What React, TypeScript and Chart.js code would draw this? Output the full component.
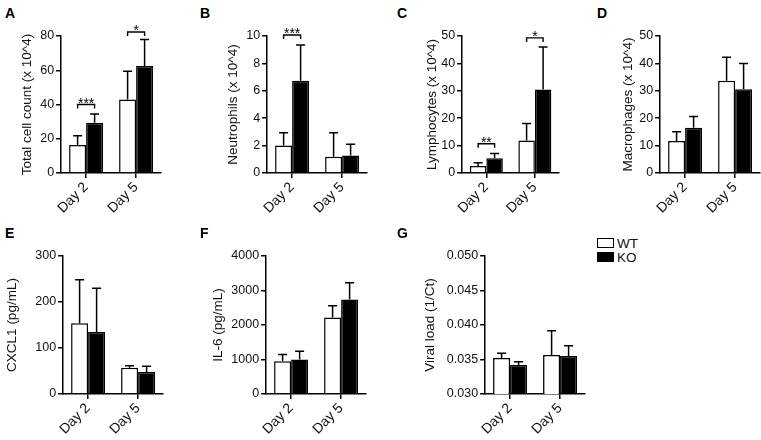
import { useEffect, useRef } from "react";
import { Chart, registerables } from "chart.js";

Chart.register(...registerables);

const INK = "#111";
const FONT = "Arial, 'Liberation Sans', Helvetica, sans-serif";

// categories and groups
const days = ["Day 2", "Day 5"];
const groups = ["WT", "KO"];

// bar heights (mean) and top of each error bar
const totalWT = [16.3, 42.9];
const totalKO = [29.3, 62.5];
const totalWTTop = [21.7, 59.4];
const totalKOTop = [34.4, 78];
const totalTicks = [0, 20, 40, 60, 80];

const neutroWT = [2.0, 1.19];
const neutroKO = [6.74, 1.27];
const neutroWTTop = [2.94, 2.94];
const neutroKOTop = [9.34, 2.09];
const neutroTicks = [0, 2, 4, 6, 8, 10];

const lymphoWT = [2.55, 11.9];
const lymphoKO = [5.34, 30.5];
const lymphoWTTop = [3.76, 18.1];
const lymphoKOTop = [7.16, 46];
const lymphoTicks = [0, 10, 20, 30, 40, 50];

const macroWT = [11.65, 33.7];
const macroKO = [16.5, 30.6];
const macroWTTop = [15.05, 42.2];
const macroKOTop = [20.6, 40];
const macroTicks = [0, 10, 20, 30, 40, 50];

const cxclWT = [153.6, 57.2];
const cxclKO = [134.8, 47.8];
const cxclWTTop = [248.5, 61.6];
const cxclKOTop = [229.7, 60.1];
const cxclTicks = [0, 100, 200, 300];

const il6WT = [949, 2218];
const il6KO = [998, 2741];
const il6WTTop = [1143, 2557];
const il6KOTop = [1240, 3225];
const il6Ticks = [0, 1000, 2000, 3000, 4000];

const viralWT = [0.03522, 0.03565];
const viralKO = [0.0342, 0.03551];
const viralWTTop = [0.03589, 0.03918];
const viralKOTop = [0.03469, 0.037];
const viralTicks = [0.03, 0.035, 0.04, 0.045, 0.05];

// significance brackets: day index, bracket height (axis units), stars
type Sig = { day: number; at: number; label: string };
const totalSig: Sig[] = [
  { day: 0, at: 40, label: "***" },
  { day: 1, at: 82.3, label: "*" },
];
const neutroSig: Sig[] = [{ day: 0, at: 10.07, label: "***" }];
const lymphoSig: Sig[] = [
  { day: 0, at: 10.7, label: "**" },
  { day: 1, at: 49.3, label: "*" },
];

interface PanelDef {
  letter: string;
  title: string;
  wt: number[];
  ko: number[];
  wtTop: number[];
  koTop: number[];
  ticks: number[];
  decimals: number;
  sig: Sig[];
}

const panels: PanelDef[] = [
  { letter: "A", title: "Total cell count (x 10^4)", wt: totalWT, ko: totalKO, wtTop: totalWTTop, koTop: totalKOTop, ticks: totalTicks, decimals: 0, sig: totalSig },
  { letter: "B", title: "Neutrophils (x 10^4)", wt: neutroWT, ko: neutroKO, wtTop: neutroWTTop, koTop: neutroKOTop, ticks: neutroTicks, decimals: 0, sig: neutroSig },
  { letter: "C", title: "Lymphocytes (x 10^4)", wt: lymphoWT, ko: lymphoKO, wtTop: lymphoWTTop, koTop: lymphoKOTop, ticks: lymphoTicks, decimals: 0, sig: lymphoSig },
  { letter: "D", title: "Macrophages (x 10^4)", wt: macroWT, ko: macroKO, wtTop: macroWTTop, koTop: macroKOTop, ticks: macroTicks, decimals: 0, sig: [] },
  { letter: "E", title: "CXCL1 (pg/mL)", wt: cxclWT, ko: cxclKO, wtTop: cxclWTTop, koTop: cxclKOTop, ticks: cxclTicks, decimals: 0, sig: [] },
  { letter: "F", title: "IL-6 (pg/mL)", wt: il6WT, ko: il6KO, wtTop: il6WTTop, koTop: il6KOTop, ticks: il6Ticks, decimals: 0, sig: [] },
  { letter: "G", title: "Viral load (1/Ct)", wt: viralWT, ko: viralKO, wtTop: viralWTTop, koTop: viralKOTop, ticks: viralTicks, decimals: 3, sig: [] },
];

// where each panel sits on the page (px)
const rows = [
  { canvasTop: 0, plotTop: 36, plotBottom: 173 },
  { canvasTop: 220, plotTop: 256, plotBottom: 394 },
];
const frames = [
  { row: 0, titleX: 27, axisLeft: 61, axisRight: 161, letterX: 5 },
  { row: 0, titleX: 233, axisLeft: 267, axisRight: 367, letterX: 200 },
  { row: 0, titleX: 432, axisLeft: 462, axisRight: 559, letterX: 397 },
  { row: 0, titleX: 628, axisLeft: 660, axisRight: 760, letterX: 597 },
  { row: 1, titleX: 12, axisLeft: 63, axisRight: 163, letterX: 5 },
  { row: 1, titleX: 218, axisLeft: 266, axisRight: 366, letterX: 200 },
  { row: 1, titleX: 430, axisLeft: 485, axisRight: 585, letterX: 397 },
];

const X_AXIS_H = 50;
const TITLE_SIZE = 13.5;

function Panel({ p, f }: { p: PanelDef; f: (typeof frames)[number] }) {
  const canvasRef = useRef<HTMLCanvasElement>(null);
  const row = rows[f.row];
  const left = f.titleX - (TITLE_SIZE * 1.2) / 2;
  const yAxisW = f.axisLeft - left;
  const width = f.axisRight - left + 1;
  const height = row.plotBottom - row.canvasTop + X_AXIS_H;

  useEffect(() => {
    if (!canvasRef.current) return;

    // error bars: a line up from the bar top with a short cap
    const errorBars = {
      id: "errorBars",
      afterDatasetsDraw(chart: Chart) {
        const { ctx } = chart;
        const yScale = chart.scales.y;
        [p.wtTop, p.koTop].forEach((tops, i) => {
          const meta = chart.getDatasetMeta(i);
          meta.data.forEach((bar: any, j: number) => {
            const yEnd = yScale.getPixelForValue(tops[j]);
            ctx.save();
            ctx.strokeStyle = "#000";
            ctx.lineWidth = 1.5;
            ctx.beginPath();
            ctx.moveTo(bar.x, bar.y);
            ctx.lineTo(bar.x, yEnd);
            ctx.moveTo(bar.x - 4.5, yEnd);
            ctx.lineTo(bar.x + 4.5, yEnd);
            ctx.stroke();
            ctx.restore();
          });
        });
      },
    };

    // significance brackets with stars
    const brackets = {
      id: "brackets",
      afterDraw(chart: Chart) {
        const { ctx } = chart;
        const yScale = chart.scales.y;
        p.sig.forEach((s) => {
          const a = chart.getDatasetMeta(0).data[s.day] as any;
          const b = chart.getDatasetMeta(1).data[s.day] as any;
          const y = yScale.getPixelForValue(s.at);
          ctx.save();
          ctx.strokeStyle = "#000";
          ctx.lineWidth = 1.4;
          ctx.beginPath();
          ctx.moveTo(a.x, y + 4);
          ctx.lineTo(a.x, y);
          ctx.lineTo(b.x, y);
          ctx.lineTo(b.x, y + 4);
          ctx.stroke();
          ctx.fillStyle = "#000";
          ctx.font = `14px ${FONT}`;
          ctx.textAlign = "center";
          ctx.textBaseline = "alphabetic";
          ctx.fillText(s.label, (a.x + b.x) / 2, y + 3);
          ctx.restore();
        });
      },
    };

    const axisGrid = {
      display: true,
      drawOnChartArea: false,
      drawTicks: true,
      tickLength: 5,
      color: "#000",
      lineWidth: 1.5,
    };
    const axisBorder = { display: true, color: "#000", width: 1.5 };

    const chart = new Chart(canvasRef.current, {
      type: "bar",
      data: {
        labels: days,
        datasets: [
          { label: groups[0], data: p.wt, backgroundColor: "#fff", borderColor: "#000", borderWidth: 1.5 },
          { label: groups[1], data: p.ko, backgroundColor: "#000", borderColor: "#000", borderWidth: 1.5 },
        ],
      },
      options: {
        animation: false,
        responsive: true,
        maintainAspectRatio: false,
        layout: { padding: { top: row.plotTop - row.canvasTop, left: 0, right: 1, bottom: 0 } },
        datasets: { bar: { categoryPercentage: 0.68, barPercentage: 1 } },
        plugins: { legend: { display: false }, tooltip: { enabled: false } },
        scales: {
          x: {
            offset: true,
            grid: { ...axisGrid, offset: false },
            border: axisBorder,
            ticks: {
              autoSkip: false,
              minRotation: 45,
              maxRotation: 45,
              padding: 1,
              color: INK,
              font: { family: FONT, size: 14 },
            },
            afterFit: (s: any) => {
              s.height = X_AXIS_H;
            },
          },
          y: {
            min: p.ticks[0],
            max: p.ticks[p.ticks.length - 1],
            grid: axisGrid,
            border: axisBorder,
            afterBuildTicks: (s: any) => {
              s.ticks = p.ticks.map((v) => ({ value: v }));
            },
            ticks: {
              padding: 2,
              color: INK,
              font: { family: FONT, size: 12.5 },
              callback: (v: any) => Number(v).toFixed(p.decimals),
            },
            title: {
              display: true,
              text: p.title,
              color: INK,
              padding: 0,
              font: { family: FONT, size: TITLE_SIZE },
            },
            afterFit: (s: any) => {
              s.width = yAxisW;
            },
          },
        },
      },
      plugins: [errorBars, brackets],
    });

    return () => chart.destroy();
  }, [p, row, yAxisW]);

  return (
    <>
      <div
        style={{
          position: "absolute",
          left: f.letterX,
          top: row.canvasTop + 6,
          font: `bold 14px ${FONT}`,
          lineHeight: "14px",
          color: "#000",
        }}
      >
        {p.letter}
      </div>
      <div style={{ position: "absolute", left, top: row.canvasTop, width, height }}>
        <canvas ref={canvasRef}></canvas>
      </div>
    </>
  );
}

export default function App() {
  useEffect(() => {
    document.body.style.margin = "0";
  }, []);

  return (
    <div style={{ position: "relative", width: 761, height: 440, background: "#fff", overflow: "hidden" }}>
      {panels.map((p, i) => (
        <Panel key={p.letter} p={p} f={frames[i]} />
      ))}
      <div style={{ position: "absolute", left: 597, top: 236, font: `13.5px ${FONT}`, color: INK }}>
        {groups.map((g, i) => (
          <div key={g} style={{ display: "flex", alignItems: "center", height: 14 }}>
            <span
              style={{
                display: "inline-block",
                width: 15,
                height: 8,
                border: "1.5px solid #000",
                background: i === 0 ? "#fff" : "#000",
                marginRight: 3,
              }}
            />
            {g}
          </div>
        ))}
      </div>
    </div>
  );
}
